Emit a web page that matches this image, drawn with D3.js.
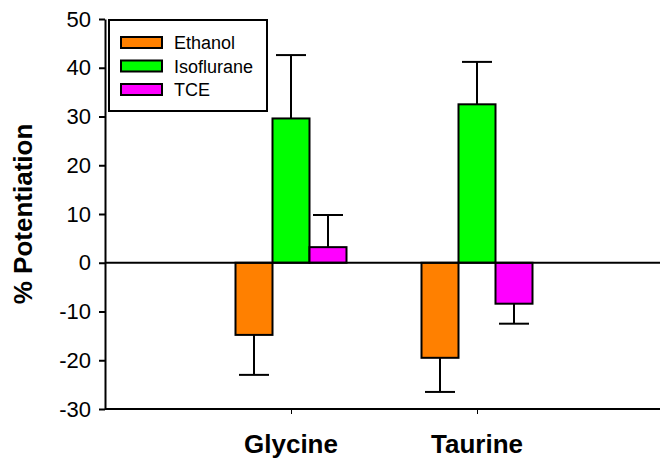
<!DOCTYPE html>
<html>
<head>
<meta charset="utf-8">
<script src="https://cdn.jsdelivr.net/npm/d3@7"></script>
<style>
  body { margin: 0; background: #fff; }
  text { font-family: "Liberation Sans", Arial, sans-serif; }
</style>
</head>
<body>
<div class="chart"></div>
<script>
// data
var categories = ["Glycine", "Taurine"];
var series = ["Ethanol", "Isoflurane", "TCE"];
var colors = ["#ff8000", "#00ff00", "#ff00ff"];
var ethanol = [-14.8, -19.5];
var ethanolErr = [8.2, 7.0];
var isoflurane = [29.6, 32.5];
var isofluraneErr = [13.0, 8.7];
var tce = [3.2, -8.4];
var tceErr = [6.6, 4.1];
var yTicks = [-30, -20, -10, 0, 10, 20, 30, 40, 50];

var values = [ethanol, isoflurane, tce];
var errors = [ethanolErr, isofluraneErr, tceErr];

var width = 660;
var height = 460;
// note: "top" is taken by window.top, so plot edges get their own names
var plotLeft = 105, plotRight = 660, plotTop = 19, plotBottom = 409;
var barW = 37;

var svg = d3.select(".chart")
            .append("svg")
            .attr("width", width)
            .attr("height", height);

// category i sits at position i+1, three slots across the axis
var xScale = d3.scaleLinear().domain([0, 3]).range([plotLeft, 663]);
var yScale = d3.scaleLinear().domain([-30, 50]).range([plotBottom, plotTop]);

// flatten to one row per bar
var bars = [];
series.forEach(function(s, si) {
  categories.forEach(function(c, ci) {
    bars.push({s: si, c: ci, v: values[si][ci], e: errors[si][ci]});
  });
});

function barX(d) { return xScale(d.c + 1) + (d.s - 1.5) * barW; }

// error bars (one sided, away from zero)
var eb = svg.append("g").attr("stroke", "#000").attr("stroke-width", 2);
bars.forEach(function(d) {
  var cx = barX(d) + barW / 2;
  var end = d.v >= 0 ? d.v + d.e : d.v - d.e;
  eb.append("line")
    .attr("x1", cx).attr("x2", cx)
    .attr("y1", yScale(d.v)).attr("y2", yScale(end));
  eb.append("line")
    .attr("x1", cx - 15).attr("x2", cx + 15)
    .attr("y1", yScale(end)).attr("y2", yScale(end));
});

svg.selectAll("rect.bar")
   .data(bars)
   .enter()
   .append("rect")
   .attr("class", "bar")
   .attr("x", barX)
   .attr("width", barW)
   .attr("y", d => yScale(Math.max(0, d.v)))
   .attr("height", d => Math.abs(yScale(d.v) - yScale(0)))
   .attr("fill", d => colors[d.s])
   .attr("stroke", "#000")
   .attr("stroke-width", 2);

// zero line
svg.append("line")
   .attr("x1", plotLeft).attr("x2", plotRight)
   .attr("y1", yScale(0)).attr("y2", yScale(0))
   .attr("stroke", "#000").attr("stroke-width", 2);

// axes
var yAxis = d3.axisLeft(yScale)
              .tickValues(yTicks)
              .tickFormat(d => String(d))   // plain hyphen, not unicode minus
              .tickSize(6)
              .tickSizeOuter(0)
              .tickPadding(8);
var gy = svg.append("g")
   .attr("transform", "translate(" + plotLeft + ",0)")
   .call(yAxis);
gy.select(".domain").attr("stroke-width", 2);
gy.selectAll(".tick line").attr("stroke-width", 2);
gy.selectAll(".tick text")
  .attr("font-family", "Liberation Sans, Arial, sans-serif")
  .attr("font-size", 22)
  .attr("fill", "#000");

var xAxis = d3.axisBottom(xScale)
              .tickValues([1, 2])
              .tickSize(5)
              .tickSizeOuter(0)
              .tickFormat("");
var gx = svg.append("g")
   .attr("transform", "translate(0," + plotBottom + ")")
   .call(xAxis);
gx.select(".domain").attr("stroke-width", 2).attr("d", "M" + plotLeft + ",0H" + plotRight);

svg.selectAll("text.cat")
   .data(categories)
   .enter()
   .append("text")
   .attr("class", "cat")
   .attr("x", (d, i) => xScale(i + 1))
   .attr("y", 453)
   .attr("text-anchor", "middle")
   .attr("font-size", 26)
   .attr("font-weight", "bold")
   .text(d => d);

// y title
svg.append("text")
   .attr("transform", "translate(32," + ((plotTop + plotBottom) / 2) + ") rotate(-90)")
   .attr("text-anchor", "middle")
   .attr("font-size", 26)
   .attr("font-weight", "bold")
   .text("% Potentiation");

// legend
var lg = svg.append("g");
lg.append("rect")
  .attr("x", 109).attr("y", 20)
  .attr("width", 158).attr("height", 91)
  .attr("fill", "#fff").attr("stroke", "#000").attr("stroke-width", 2);
series.forEach(function(s, i) {
  var cy = 42.5 + i * 23.5;
  lg.append("rect")
    .attr("x", 121).attr("y", cy - 5.5)
    .attr("width", 41).attr("height", 11)
    .attr("fill", colors[i]).attr("stroke", "#000").attr("stroke-width", 2);
  lg.append("text")
    .attr("x", 174).attr("y", cy + 6.5)
    .attr("font-size", 18)
    .text(s);
});
</script>
</body>
</html>
